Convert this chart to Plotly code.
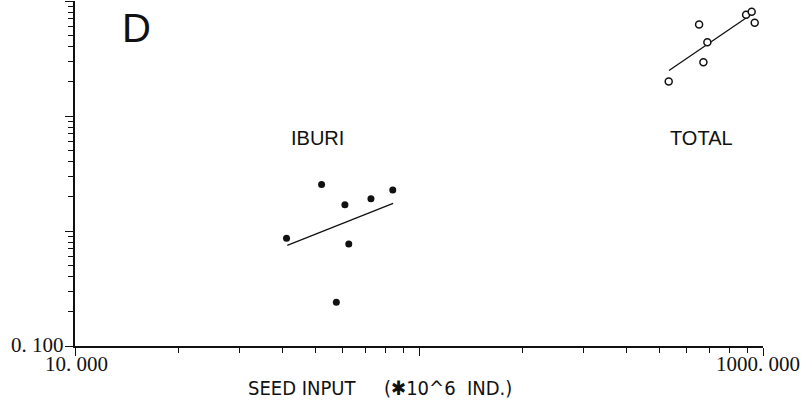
import math
import plotly.graph_objects as go

# IBURI (filled points)
iburi_x = [41.2, 52.1, 60.9, 72.5, 83.9, 62.5, 57.5]
iburi_y = [0.866, 2.54, 1.69, 1.91, 2.27, 0.769, 0.240]
iburi_fit_x = [41.4, 84.1]
iburi_fit_y = [0.749, 1.74]

# TOTAL (open points)
total_x = [532, 652, 671, 689, 893, 927, 946]
total_y = [19.97, 62.6, 29.3, 43.7, 75.9, 80.6, 64.7]
total_fit_x = [533, 906]
total_fit_y = [24.9, 73.4]

x_tickvals = [10, 100, 1000]
x_label_vals = [10, 1000]
x_label_text = ["10. 000", "1000. 000"]
y_tickvals = [0.1, 1, 10, 100]
y_label_vals = [0.1]
y_label_text = ["0. 100"]

x_minor = [m * d for d in (10, 100) for m in range(2, 10)]
y_minor = [m * d for d in (0.1, 1, 10) for m in range(2, 10)]

ink = "#111111"
serif = "Liberation Serif"

fig = go.Figure()
fig.add_trace(go.Scatter(x=iburi_fit_x, y=iburi_fit_y, mode="lines",
                         line=dict(color=ink, width=1.3), showlegend=False))
fig.add_trace(go.Scatter(x=total_fit_x, y=total_fit_y, mode="lines",
                         line=dict(color=ink, width=1.3), showlegend=False))
fig.add_trace(go.Scatter(x=iburi_x, y=iburi_y, mode="markers",
                         marker=dict(color=ink, size=7), showlegend=False))
fig.add_trace(go.Scatter(x=total_x, y=total_y, mode="markers",
                         marker=dict(color="white", size=7, line=dict(color=ink, width=1.5)),
                         showlegend=False))

annotations = [
    dict(text="D", x=0.0887, y=0.922, xref="paper", yref="paper",
         xanchor="center", yanchor="middle",
         showarrow=False, font=dict(family="Liberation Sans", size=40, color=ink)),
    dict(text="IBURI", x=0.353, y=0.603, xref="paper", yref="paper",
         xanchor="center", yanchor="middle",
         showarrow=False, font=dict(family="Liberation Sans", size=20, color=ink)),
    dict(text="TOTAL", x=0.910, y=0.603, xref="paper", yref="paper",
         xanchor="center", yanchor="middle",
         showarrow=False, font=dict(family="Liberation Sans", size=20, color=ink)),
    dict(text="SEED INPUT     (✱10^6  IND.)", x=0.443, y=-0.122,
         xref="paper", yref="paper", xanchor="center", yanchor="middle",
         showarrow=False,
         font=dict(family="Liberation Sans Narrow, DejaVu Sans Condensed, Liberation Sans",
                   size=20, color=ink)),
]
# x tick labels (slightly offset like the printed original)
for v, t, dx in zip(x_label_vals, x_label_text, [1.5, -5]):
    annotations.append(dict(text=t, x=math.log10(v), y=-0.053,
                            xref="x", yref="paper", xshift=dx,
                            xanchor="center", yanchor="middle", showarrow=False,
                            font=dict(family=serif, size=21, color=ink)))
for v, t in zip(y_label_vals, y_label_text):
    annotations.append(dict(text=t, x=-0.055, y=math.log10(v),
                            xref="paper", yref="y", yshift=1,
                            xanchor="center", yanchor="middle", showarrow=False,
                            font=dict(family=serif, size=21, color=ink)))

fig.update_layout(
    width=806, height=400,
    margin=dict(l=75, r=43, t=1, b=54),
    paper_bgcolor="white", plot_bgcolor="white",
    xaxis=dict(type="log", range=[1, 3], showgrid=False, zeroline=False,
               automargin=False,
               showline=True, linecolor=ink, linewidth=1.5,
               ticks="outside", ticklen=8, tickcolor=ink, tickwidth=1.3,
               tickvals=x_tickvals, showticklabels=False,
               minor=dict(tickvals=x_minor, ticks="outside", ticklen=5,
                          tickcolor=ink, tickwidth=1.2)),
    yaxis=dict(type="log", range=[-1, 2], showgrid=False, zeroline=False,
               automargin=False,
               showline=True, linecolor=ink, linewidth=1.5,
               ticks="outside", ticklen=8, tickcolor=ink, tickwidth=1.3,
               tickvals=y_tickvals, showticklabels=False,
               minor=dict(tickvals=y_minor, ticks="outside", ticklen=5,
                          tickcolor=ink, tickwidth=1.2)),
    annotations=annotations,
)

fig.write_html("out.html", config={"displayModeBar": False},
               post_script="document.body.style.margin='0px';")
